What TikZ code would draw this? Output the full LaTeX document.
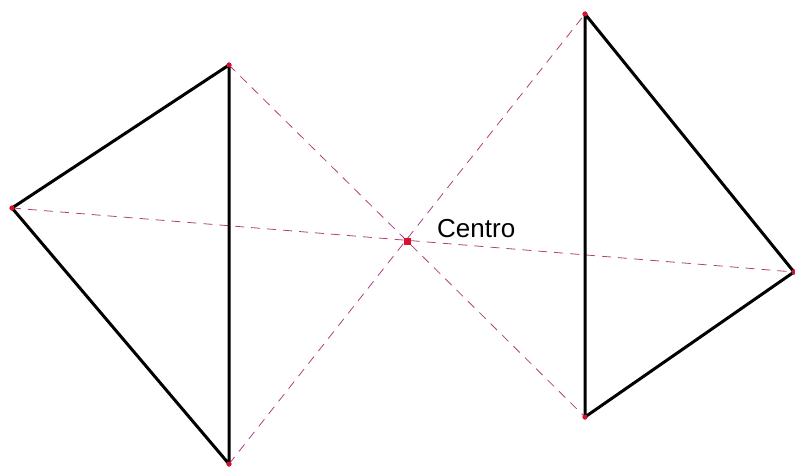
\documentclass[tikz,border=0pt]{standalone}
\usepackage{fontspec}
\setmainfont{Liberation Sans}
\usepackage{xcolor}
\usetikzlibrary{positioning}
\definecolor{axisline}{HTML}{B0407E}
\definecolor{vertexred}{HTML}{D8102E}

\begin{document}
\begin{tikzpicture}[x=1pt, y=-1pt,
    edge/.style={black, line width=3pt, line join=round},
    axis/.style={axisline, line width=0.8pt, dash pattern=on 9pt off 7pt},
    vertex/.style={circle, fill=vertexred, inner sep=0pt, minimum size=5pt},
    centre/.style={rectangle, fill=vertexred, inner sep=0pt, minimum size=7pt}]
  \useasboundingbox (0,0) rectangle (795,468);
  % left triangle
  \node[vertex] (a) at (229,65) {};
  \node[vertex] (b) at (12,208) {};
  \node[vertex] (c) at (229,464) {};
  % right triangle
  \node[vertex] (d) at (585,14) {};
  \node[vertex] (e) at (794,272) {};
  \node[vertex] (f) at (585,417) {};
  \node[centre] (o) at (407,241) {};
  \node[font=\fontsize{26}{30}\selectfont, anchor=base west, inner sep=0pt] (lbl) at (437,237) {Centro};
  \draw[axis] (a.center) -- (f.center);
  \draw[axis] (c.center) -- (d.center);
  \draw[axis] (b.center) -- (e.center);
  \draw[edge] (a.center) -- (b.center) -- (c.center) -- cycle;
  \draw[edge] (d.center) -- (e.center) -- (f.center) -- cycle;
  \node[vertex] at (a) {};
  \node[vertex] at (b) {};
  \node[vertex] at (c) {};
  \node[vertex] at (d) {};
  \node[vertex] at (e) {};
  \node[vertex] at (f) {};
  \node[centre] at (o) {};
\end{tikzpicture}
\end{document}
